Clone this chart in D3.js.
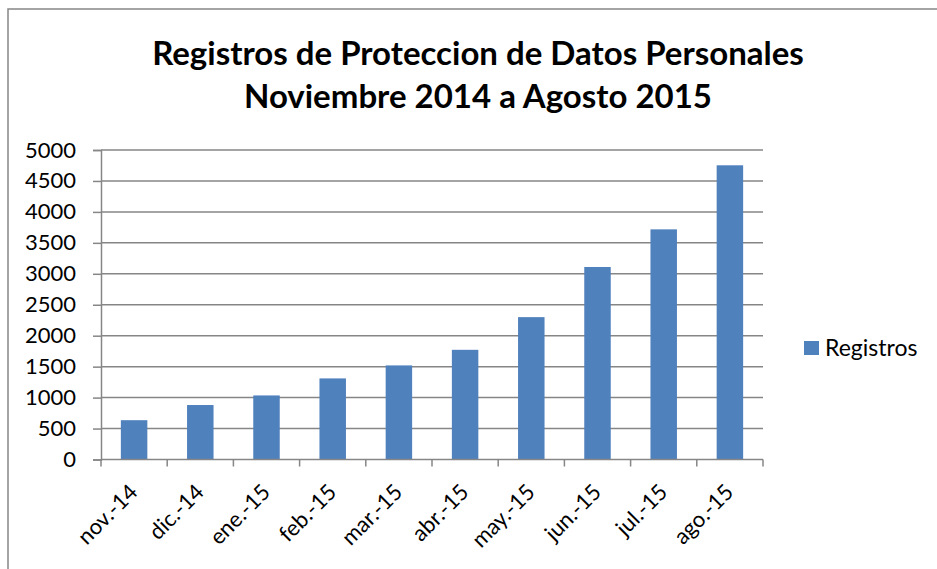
<!DOCTYPE html>
<html lang="es">
<head>
<meta charset="UTF-8">
<title>Registros de Proteccion de Datos Personales</title>
<script src="https://d3js.org/d3.v7.min.js"></script>
<style>
    body { margin: 0; background: #fff; font-family: Lato, "Open Sans", sans-serif; }
    svg { display: block; }
</style>
</head>
<body>
<svg width="937" height="569"></svg>
<script>
// datos
const meses = ["nov.-14", "dic.-14", "ene.-15", "feb.-15", "mar.-15", "abr.-15", "may.-15", "jun.-15", "jul.-15", "ago.-15"];
const registros = [635, 880, 1035, 1310, 1520, 1772, 2300, 3110, 3718, 4753];
const yTicks = [0, 500, 1000, 1500, 2000, 2500, 3000, 3500, 4000, 4500, 5000];
const serie = "Registros";
const titulo = ["Registros de Proteccion de Datos Personales", "Noviembre 2014 a Agosto 2015"];

const data = meses.map((m, i) => ({ mes: m, valor: registros[i] }));

const svg = d3.select("svg");
const margin = { top: 150, left: 101, right: 937 - 763, bottom: 569 - 459.5 };
const width = 937 - margin.left - margin.right;
const height = 569 - margin.top - margin.bottom;
const grey = "#868686";

// marco exterior (cortado a la derecha y abajo)
svg.append("rect")
    .attr("x", 8).attr("y", 9)
    .attr("width", 960).attr("height", 600)
    .attr("fill", "none")
    .attr("stroke", grey)
    .attr("stroke-width", 1.5);

// titulo
svg.append("text")
    .attr("x", 478).attr("y", 65)
    .attr("text-anchor", "middle")
    .attr("font-size", "33px").attr("font-weight", "bold")
    .text(titulo[0]);
svg.append("text")
    .attr("x", 478).attr("y", 108)
    .attr("text-anchor", "middle")
    .attr("font-size", "33px").attr("font-weight", "bold")
    .text(titulo[1]);

const g = svg.append("g").attr("transform", `translate(${margin.left},${margin.top})`);

const x = d3.scaleBand()
    .domain(meses)
    .range([0, width])
    .paddingInner(0.6)
    .paddingOuter(0.3);

const y = d3.scaleLinear()
    .domain([0, 5000])
    .range([height, 0]);

// lineas de cuadricula
g.selectAll(".grid")
    .data(yTicks.slice(1))
    .enter().append("line")
    .attr("class", "grid")
    .attr("x1", 0).attr("x2", width)
    .attr("y1", d => y(d)).attr("y2", d => y(d))
    .attr("stroke", grey).attr("stroke-width", 1.5);

// barras
g.selectAll(".bar")
    .data(data)
    .enter().append("rect")
    .attr("class", "bar")
    .attr("x", d => x(d.mes))
    .attr("y", d => y(d.valor))
    .attr("width", x.bandwidth())
    .attr("height", d => height - y(d.valor))
    .attr("fill", "#4f81bd");

// eje Y
const yAxis = g.append("g")
    .call(d3.axisLeft(y).tickValues(yTicks).tickFormat(d3.format("d")).tickSize(8).tickPadding(17));
yAxis.select(".domain").attr("stroke", grey).attr("stroke-width", 1.5);
yAxis.selectAll(".tick line").attr("stroke", grey).attr("stroke-width", 1.5);
yAxis.selectAll("text")
    .attr("font-family", "Lato, 'Open Sans', sans-serif")
    .attr("font-size", "22px")
    .attr("fill", "#000");

// eje X con marcas entre categorias
const xAxis = g.append("g").attr("transform", `translate(0,${height})`);
xAxis.append("line")
    .attr("x1", 0).attr("x2", width)
    .attr("stroke", grey).attr("stroke-width", 1.5);
xAxis.selectAll(".xtick")
    .data(d3.range(meses.length + 1))
    .enter().append("line")
    .attr("class", "xtick")
    .attr("x1", i => i === meses.length ? width : x(meses[i]) - x.bandwidth() * 0.75)
    .attr("x2", i => i === meses.length ? width : x(meses[i]) - x.bandwidth() * 0.75)
    .attr("y1", 0).attr("y2", 7)
    .attr("stroke", grey).attr("stroke-width", 1.5);

xAxis.selectAll(".xlabel")
    .data(meses)
    .enter().append("text")
    .attr("class", "xlabel")
    .attr("transform", d => `translate(${x(d) + x.bandwidth() / 2 + 5},${34}) rotate(-45)`)
    .attr("text-anchor", "end")
    .attr("font-size", "22px")
    .text(d => d);

// leyenda
const legend = svg.append("g").attr("transform", "translate(804,341)");
legend.append("rect")
    .attr("width", 15).attr("height", 14)
    .attr("fill", "#4f81bd");
legend.append("text")
    .attr("x", 21).attr("y", 7)
    .attr("dy", "0.35em")
    .attr("font-size", "23px")
    .text(serie);
</script>
</body>
</html>
